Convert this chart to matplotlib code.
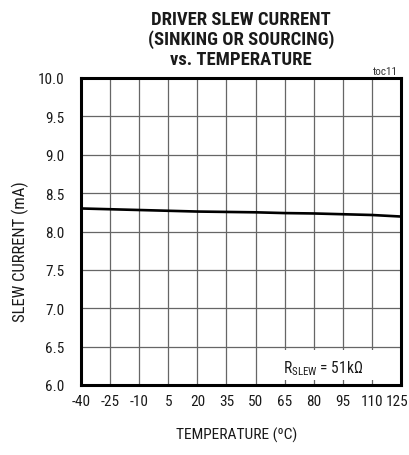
import matplotlib
matplotlib.use("Agg")
import matplotlib.pyplot as plt
from matplotlib import font_manager as fm
from matplotlib.patches import Rectangle
from matplotlib.transforms import ScaledTranslation

names = {f.name for f in fm.fontManager.ttflist}
FONT = "Liberation Sans"
for cand in ["Liberation Sans Narrow", "Arial Narrow", "Roboto Condensed", "Open Sans Condensed"]:
    if cand in names:
        FONT = cand
        break

plt.rcParams['font.family'] = [FONT, 'DejaVu Sans']
plt.rcParams['mathtext.fontset'] = 'custom'
plt.rcParams['mathtext.rm'] = FONT
plt.rcParams['mathtext.it'] = FONT
plt.rcParams['mathtext.bf'] = FONT

# Data
temperature = [-40, -25, -10, 5, 20, 35, 50, 65, 80, 95, 110, 125]
slew_current = [8.30, 8.29, 8.28, 8.27, 8.26, 8.255, 8.25, 8.24, 8.235, 8.225, 8.215, 8.195]
x_ticks = [-40, -25, -10, 5, 20, 35, 50, 65, 80, 95, 110, 125]
y_ticks = [6.0, 6.5, 7.0, 7.5, 8.0, 8.5, 9.0, 9.5, 10.0]
title_lines = ["DRIVER SLEW CURRENT", "(SINKING OR SOURCING)", "vs. TEMPERATURE"]

W, H = 409, 456
fig = plt.figure(figsize=(W / 100, H / 100), dpi=100)
L, R, T, B = 81, 401, 79, 386
ax = fig.add_axes([L / W, 1 - B / H, (R - L) / W, (B - T) / H])
TXT = '#1a1a1a'

ax.set_xlim(-40, 125)
ax.set_ylim(6.0, 10.0)
ax.set_xticks(x_ticks)
ax.set_yticks(y_ticks)
ax.set_xticklabels([str(v) for v in x_ticks])
ax.set_yticklabels([f"{v:.1f}" for v in y_ticks])
ax.tick_params(axis='both', length=0, labelsize=11, colors=TXT)
ax.tick_params(axis='y', pad=12)
ax.tick_params(axis='x', pad=6.5)
ax.grid(True, color='#666666', linewidth=0.9)
ax.set_axisbelow(True)
for s in ax.spines.values():
    s.set_linewidth(2.2)
    s.set_color('black')

# shift last x tick label to stay inside figure
lbl = ax.get_xticklabels()[-1]
lbl.set_transform(lbl.get_transform() + ScaledTranslation(-4 / 100, 0, fig.dpi_scale_trans))

ax.plot(temperature, slew_current, color='black', linewidth=1.9, zorder=3)

# legend box covering grid
ax.add_patch(Rectangle((56, 6.07), 69, 0.39, facecolor='white', edgecolor='none', zorder=2.5))
leg = ax.text(84.8, 6.23, r"$\mathregular{R_{SLEW}}$ = 51k$\mathregular{\Omega}$", ha='center', va='center',
              fontsize=11, color=TXT, zorder=4)

texts = []
for i, line in enumerate(title_lines):
    t = fig.text(241 / W, 1 - (25 + 20 * i) / H, line, ha='center', va='baseline',
                 fontsize=12.5, fontweight='bold', color=TXT)
    texts.append(t)
fig.text(398 / W, 1 - 75 / H, "toc11", ha='right', va='baseline', fontsize=8, color='#333333')
xl = fig.text(237 / W, 1 - 435 / H, "TEMPERATURE (ºC)", ha='center', va='center', fontsize=11, color=TXT)
yl = fig.text(20 / W, 1 - 252 / H, "SLEW CURRENT (mA)", ha='center', va='center', rotation=90,
              fontsize=11, color=TXT)

# fit font sizes to the reference text extents (in pixels)
fig.canvas.draw()
r = fig.canvas.get_renderer()
def fit(t, target, horiz=True, lo=6, hi=14):
    bb = t.get_window_extent(r)
    w = bb.width if horiz else bb.height
    s = t.get_fontsize() * target / w
    t.set_fontsize(max(lo, min(hi, s)))

title_w = max(t.get_window_extent(r).width for t in texts)
scale = 186 / title_w
for t in texts:
    t.set_fontsize(min(13.5, t.get_fontsize() * scale))
fit(xl, 121)
fit(yl, 141, horiz=False)
fit(leg, 80)

fig.savefig("out.png", dpi=100)
